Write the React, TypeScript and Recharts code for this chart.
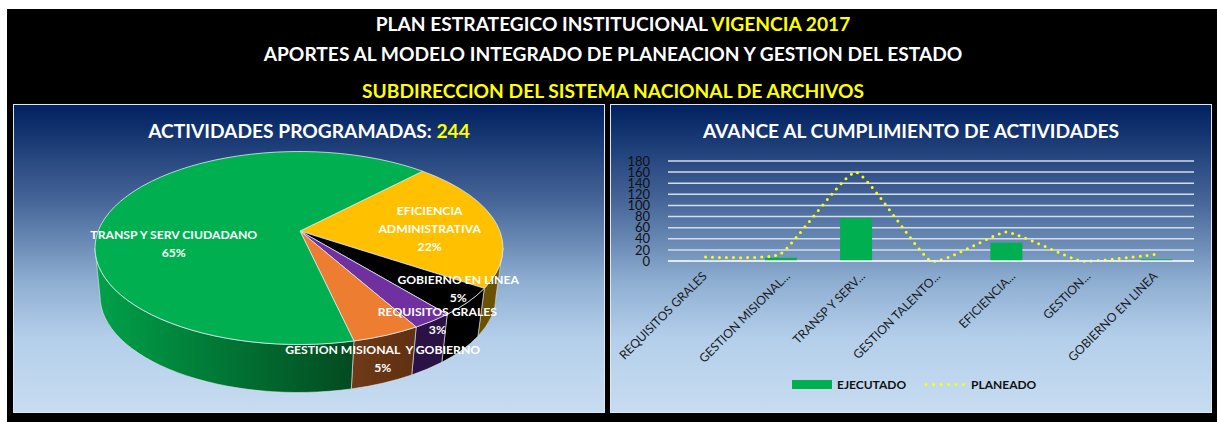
import { Bar, CartesianGrid, ComposedChart, Legend, Line, Pie, PieChart, XAxis, YAxis } from 'recharts'

// pie slices, percent shares
const sliceNames = ['EFICIENCIA ADMINISTRATIVA', 'GOBIERNO EN LINEA', 'REQUISITOS GRALES', 'GESTION MISIONAL Y GOBIERNO', 'TRANSP Y SERV CIUDADANO']
const sliceShares = [21.5, 5.2, 3.2, 5.4, 64.7]
const sliceColors = ['#ffc000', '#000000', '#7030a0', '#ed7d31', '#00b050']
const sideColors = ['#6b5200', '#000000', '#2b1245', 'url(#sideOrange)', 'url(#sideGreen)']

// line + bar chart
const categories = ['REQUISITOS GRALES', 'GESTION MISIONAL...', 'TRANSP Y SERV...', 'GESTION TALENTO...', 'EFICIENCIA...', 'GESTION...', 'GOBIERNO EN LINEA']
const ejecutado = [1, 6, 77, 0, 33, 0, 3]
const planeado = [7, 13, 160, 0, 52, 0, 12]
const yTicks = [0, 20, 40, 60, 80, 100, 120, 140, 160, 180]

const pieData = sliceNames.map((name, i) => ({ name, value: sliceShares[i], fill: sliceColors[i], side: sideColors[i] }))
const barData = categories.map((name, i) => ({ name, ejecutado: ejecutado[i], planeado: planeado[i] }))

const FONT = 'Lato, sans-serif'
const PANEL_BG = 'linear-gradient(180deg, #002060 0%, #4a6a9c 33%, #8fafd2 58%, #b4cfeb 76%, #c7dcf0 100%)'
const RX = 204
const RY_RATIO = 96.5 / 204
const rad = Math.PI / 180

// the 3D look: an ellipse for the top, a slightly smaller one lower down for the rim
const topPoint = (cx: number, cy: number, r: number, a: number) => ({
  x: cx + r * Math.cos(-a * rad),
  y: cy + r * RY_RATIO * Math.sin(-a * rad),
})
const bottomPoint = (cx: number, cy: number, r: number, a: number) => ({
  x: cx - 1 + (r - 6) * Math.cos(-a * rad),
  y: cy + 48 + (r * RY_RATIO) * Math.sin(-a * rad),
})

function TopSlice(props: any) {
  const { cx, cy, outerRadius: r, startAngle, endAngle, fill } = props
  const a = topPoint(cx, cy, r, startAngle)
  const b = topPoint(cx, cy, r, endAngle)
  const large = Math.abs(startAngle - endAngle) > 180 ? 1 : 0
  const d = `M${cx + 1},${cy - 17} L${a.x},${a.y} A${r},${r * RY_RATIO} 0 ${large} 1 ${b.x},${b.y} Z`
  return <path d={d} fill={fill} stroke="#dfe8f2" strokeWidth={0.8} />
}

function SideSlice(props: any) {
  const { cx, cy, outerRadius: r, startAngle, endAngle, side } = props
  // only the part of the rim facing the viewer, i.e. angles between 0 and -180
  const from = Math.min(startAngle, 0)
  const to = Math.max(endAngle, -180)
  if (from <= to) return null
  const t1 = topPoint(cx, cy, r, from)
  const t2 = topPoint(cx, cy, r, to)
  const b1 = bottomPoint(cx, cy, r, from)
  const b2 = bottomPoint(cx, cy, r, to)
  const ry = r * RY_RATIO
  const d = `M${t1.x},${t1.y} A${r},${ry} 0 0 1 ${t2.x},${t2.y} L${b2.x},${b2.y} A${r - 6},${ry} 0 0 0 ${b1.x},${b1.y} Z`
  return <path d={d} fill={side} stroke="#dfe8f2" strokeWidth={0.6} />
}

// label placement for each slice: fraction of the radius along the mid angle, then a nudge
const labelPlace = [
  { k: 0.66, dx: 0, dy: -4, lines: ['EFICIENCIA', 'ADMINISTRATIVA'] },
  { k: 0.93, dx: 2, dy: -9, lines: ['GOBIERNO EN LINEA'] },
  { k: 1.03, dx: 1, dy: -2, lines: ['REQUISITOS GRALES'] },
  { k: 0.97, dx: -1, dy: 26, lines: ['GESTION MISIONAL  Y GOBIERNO'] },
  { k: 0.625, dx: 0, dy: 7, lines: ['TRANSP Y SERV CIUDADANO'] },
]

function SliceLabel(props: any) {
  const { cx, cy, outerRadius: r, midAngle, index } = props
  const place = labelPlace[index]
  const p = topPoint(cx, cy, r * place.k, midAngle)
  const lines = [...place.lines, `${Math.round(sliceShares[index])}%`]
  const lineH = 18
  const x = p.x + place.dx
  const y0 = p.y + place.dy - ((lines.length - 1) * lineH) / 2 + 4
  return (
    <text x={x} textAnchor="middle" fill="#fff" fontFamily={FONT} fontSize={12.2} fontWeight={700} style={{ whiteSpace: 'pre' }}>
      {lines.map((line, i) => (
        <tspan key={i} x={x} y={y0 + i * lineH}>{line}</tspan>
      ))}
    </text>
  )
}

function AngledTick(props: any) {
  const { x, y, payload } = props
  // the cut-off names sit a bit further right, like the reference
  const px = x + (payload.value.endsWith('...') ? 10 : 2)
  const py = y + 8
  return (
    <text x={px} y={py} textAnchor="end" fill="#1a1a1a" fontFamily={FONT} fontSize={12.2} transform={`rotate(-45 ${px} ${py})`}>
      {payload.value}
    </text>
  )
}

// lightly smoothed line, nearly straight between the points, passed to the Line as its curve
const SMOOTH = 14
function smoothCurve(ctx: any) {
  let pts: number[][] = []
  return {
    areaStart() {},
    areaEnd() {},
    lineStart() {
      pts = []
    },
    point(x: number, y: number) {
      pts.push([x, y])
    },
    lineEnd() {
      pts.forEach((p, i) => {
        if (i === 0) {
          ctx.moveTo(p[0], p[1])
          return
        }
        const p0 = pts[i - 2] || pts[i - 1]
        const p1 = pts[i - 1]
        const p3 = pts[i + 1] || p
        ctx.bezierCurveTo(
          p1[0] + (p[0] - p0[0]) / SMOOTH,
          p1[1] + (p[1] - p0[1]) / SMOOTH,
          p[0] - (p3[0] - p1[0]) / SMOOTH,
          p[1] - (p3[1] - p1[1]) / SMOOTH,
          p[0],
          p[1],
        )
      })
    },
  }
}

function ChartLegend() {
  return (
    <svg width={260} height={16} style={{ display: 'block' }}>
      <rect x={0} y={3} width={40} height={9} fill="#00b050" />
      <text x={45} y={12} fontFamily={FONT} fontSize={12} fontWeight={700} fill="#111">EJECUTADO</text>
      <line x1={134} x2={174} y1={7.5} y2={7.5} stroke="#ffff00" strokeWidth={3} strokeLinecap="round" strokeDasharray="0 7.5" />
      <text x={179} y={12} fontFamily={FONT} fontSize={12} fontWeight={700} fill="#111">PLANEADO</text>
    </svg>
  )
}

const panelStyle = (left: number, width: number) => ({
  position: 'absolute' as const,
  left,
  top: 95,
  width,
  height: 309,
  background: PANEL_BG,
  boxSizing: 'border-box' as const,
  border: '1px solid #dfe6ee',
})

const panelTitle = {
  position: 'absolute' as const,
  left: 0,
  right: 0,
  top: 14,
  textAlign: 'center' as const,
  color: '#fff',
  fontSize: 19.2,
  fontWeight: 700,
  lineHeight: '24px',
  zIndex: 1,
}

const headLine = (top: number) => ({
  position: 'absolute' as const,
  left: 0,
  width: 1212,
  top,
  textAlign: 'center' as const,
  color: '#fff',
  fontSize: 19.2,
  fontWeight: 700,
  lineHeight: '22px',
})

export default function App() {
  return (
    <div style={{ position: 'fixed', left: 0, top: 0, width: 1217, height: 422, background: '#fff', overflow: 'hidden' }}>
      <div style={{ position: 'absolute', left: 7, top: 9, width: 1210, height: 413, background: '#000', fontFamily: FONT }}>
        <div style={headLine(4)}>
          PLAN ESTRATEGICO INSTITUCIONAL <span style={{ color: '#ffff00' }}>VIGENCIA 2017</span>
        </div>
        <div style={headLine(34)}>APORTES AL MODELO INTEGRADO DE PLANEACION Y GESTION DEL ESTADO</div>
        <div style={{ ...headLine(71), color: '#ffff00' }}>SUBDIRECCION DEL SISTEMA NACIONAL DE ARCHIVOS</div>

        <div style={panelStyle(6, 592)}>
          <div style={panelTitle}>
            ACTIVIDADES PROGRAMADAS: <span style={{ color: '#ffff00' }}>244</span>
          </div>
          <PieChart width={590} height={306} margin={{ top: 0, right: 0, bottom: 0, left: 0 }}>
            <defs>
              <linearGradient id="sideGreen" x1="0" y1="0" x2="1" y2="0">
                <stop offset="0%" stopColor="#00a24a" />
                <stop offset="45%" stopColor="#017a37" />
                <stop offset="100%" stopColor="#034a20" />
              </linearGradient>
              <linearGradient id="sideOrange" x1="0" y1="0" x2="1" y2="0">
                <stop offset="0%" stopColor="#6f3a17" />
                <stop offset="100%" stopColor="#5f3012" />
              </linearGradient>
            </defs>
            <Pie
              data={pieData}
              dataKey="value"
              cx={285}
              cy={143}
              outerRadius={RX}
              startAngle={52.7}
              endAngle={-307.3}
              stroke="none"
              shape={SideSlice}
              isAnimationActive={false}
            />
            <Pie
              data={pieData}
              dataKey="value"
              cx={285}
              cy={143}
              outerRadius={RX}
              startAngle={52.7}
              endAngle={-307.3}
              shape={TopSlice}
              label={SliceLabel}
              labelLine={false}
              isAnimationActive={false}
            />
          </PieChart>
        </div>

        <div style={panelStyle(603, 602)}>
          <div style={panelTitle}>AVANCE AL CUMPLIMIENTO DE ACTIVIDADES</div>
          <ComposedChart
            width={600}
            height={306}
            data={barData}
            margin={{ top: 56, right: 17, bottom: 0, left: 12 }}
            barCategoryGap="29%"
          >
            <CartesianGrid vertical={false} stroke="#d4deea" strokeWidth={1.5} />
            <XAxis
              dataKey="name"
              axisLine={{ stroke: '#eef3f8', strokeWidth: 1.5 }}
              tickLine={false}
              interval={0}
              height={134}
              tick={AngledTick}
            />
            <YAxis
              width={45}
              domain={[0, 180]}
              ticks={yTicks}
              interval={0}
              axisLine={false}
              tickLine={false}
              tickMargin={12}
              tick={{ fontSize: 13, fill: '#111', fontFamily: FONT }}
            />
            <Bar dataKey="ejecutado" fill="#00b050" isAnimationActive={false} />
            <Line
              dataKey="planeado"
              type={smoothCurve as any}
              stroke="#ffff00"
              strokeWidth={3}
              strokeLinecap="round"
              strokeDasharray="0 7"
              dot={false}
              activeDot={false}
              isAnimationActive={false}
            />
            <Legend content={ChartLegend} wrapperStyle={{ left: 181, top: 272, width: 260 }} />
          </ComposedChart>
        </div>
      </div>
    </div>
  )
}
